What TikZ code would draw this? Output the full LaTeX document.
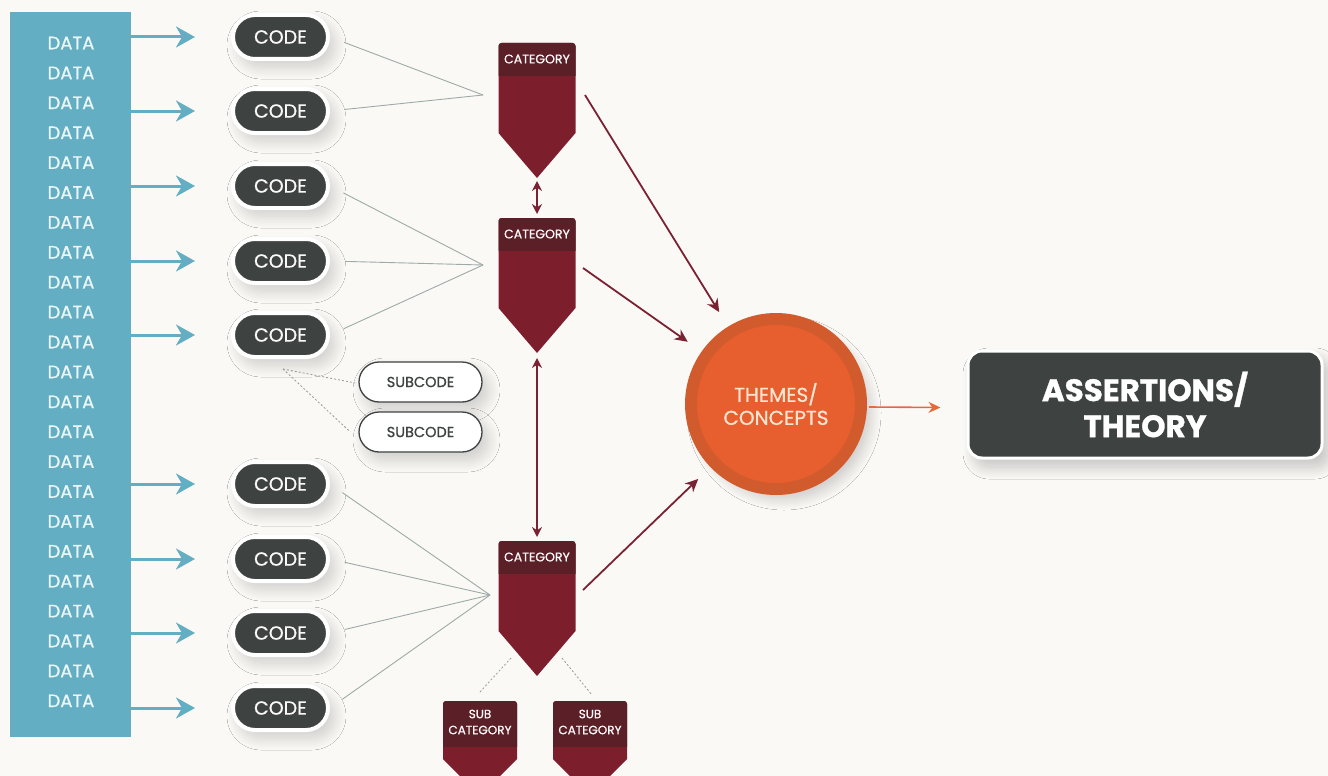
\documentclass[tikz,border=0pt]{standalone}
\usepackage{fontspec}
\setmainfont{Poppins}[FakeBold=0.9]
\usetikzlibrary{arrows.meta,shadows.blur,calc}

\definecolor{paper}{HTML}{FAF9F6}
\definecolor{teal}{HTML}{63AEC3}
\definecolor{datatext}{HTML}{EAF6F8}
\definecolor{codegray}{HTML}{3E4241}
\definecolor{linkgray}{HTML}{9EAAA8}
\definecolor{cathead}{HTML}{5A1F27}
\definecolor{catbody}{HTML}{7D1E2D}
\definecolor{catarrow}{HTML}{7B2232}
\definecolor{ring}{HTML}{D25B2E}
\definecolor{core}{HTML}{E75F2E}
\definecolor{coretext}{HTML}{FBE4D2}
\definecolor{outarrow}{HTML}{E36A3A}

% size in points of a font
\newcommand\fs[1]{\fontsize{#1}{#1}\selectfont}

% category arrow-box: #1 name, #2 centre x, #3 top y, #4 half width,
% #5 header height, #6 straight body height, #7 point depth
\newcommand\catshape[7]{%
  \begin{scope}
    \path[clip] (#2-#4,#3+#6) [rounded corners=3pt] -- (#2-#4,#3) -- (#2+#4,#3)
      [sharp corners] -- (#2+#4,#3+#6) -- (#2,#3+#6+#7) -- cycle;
    \fill[catbody] (#2-#4-2,#3-2) rectangle (#2+#4+2,#3+#6+#7+2);
    \fill[cathead] (#2-#4-2,#3-2) rectangle (#2+#4+2,#3+#5);
  \end{scope}
  \coordinate (#1top) at (#2,#3);
  \coordinate (#1tip) at (#2,#3+#6+#7);
}

\tikzset{
  x=1pt, y=-1pt,
  softshadow/.style={blur shadow={shadow xshift=6pt, shadow yshift=-8pt,
    shadow blur radius=12pt, shadow blur steps=20, shadow opacity=18}},
  datatxt/.style={text=datatext, font=\fs{18}, inner sep=0pt},
  datacol/.style={fill=teal, inner sep=0pt, minimum width=121pt, minimum height=725pt},
  feed/.style={teal, line width=3pt, -{Stealth[length=19pt,width=21pt,inset=6pt]}, shorten >=36pt},
  codebox/.style={rounded corners=22pt, fill=codegray, draw=white, line width=4pt,
    minimum width=95pt, minimum height=44pt, text=white!95!gray, font=\fs{19},
    inner sep=0pt, softshadow},
  subcodebox/.style={rounded corners=20pt, fill=white, draw=codegray, line width=1.3pt,
    minimum width=123pt, minimum height=40pt, text=codegray, font=\fs{14.5},
    inner sep=0pt, softshadow},
  link/.style={linkgray, line width=0.9pt, shorten <=15pt},
  dotlink/.style={gray!80, line width=0.8pt, dash pattern=on 2pt off 2pt},
  cattitle/.style={text=white!90!pink, font=\fs{12.5}, inner sep=0pt},
  subtitle/.style={text=white!90!pink, font=\fs{12}, inner sep=0pt, align=center,
    execute at begin node=\setlength{\baselineskip}{16pt}},
  tocat/.style={catarrow, line width=1.6pt, {Stealth[length=10pt,width=10pt]}-{Stealth[length=10pt,width=10pt]}},
  totheme/.style={catarrow, line width=1.8pt, -{Stealth[length=13pt,width=12pt]}, shorten >=17pt},
  themeball/.style={circle, fill=core, draw=ring, line width=12pt, minimum size=170pt,
    inner sep=0pt, text=coretext, font=\fs{20}, align=center,
    execute at begin node=\setlength{\baselineskip}{23pt},
    blur shadow={shadow xshift=8pt, shadow yshift=-9pt, shadow blur radius=12pt,
      shadow blur steps=20, shadow opacity=22}},
  theorybox/.style={rounded corners=14pt, fill=codegray, draw=white, line width=3pt,
    minimum width=354pt, minimum height=107pt, text=white, font=\bfseries\fs{31},
    align=center, inner sep=0pt, execute at begin node=\setlength{\baselineskip}{36pt},
    blur shadow={shadow xshift=7pt, shadow yshift=-9pt, shadow blur radius=12pt,
      shadow blur steps=20, shadow opacity=22}},
}

\begin{document}
\begin{tikzpicture}
\useasboundingbox (0,0) rectangle (1328,776);
\clip (0,0) rectangle (1328,776);
\fill[paper] (0,0) rectangle (1328,776);

% data column
\node[datacol] (data) at (70.5,374.5) {};
\foreach \i in {0,...,22}
  \node[datatxt] (d\i) at (71,{43+29.9*\i}) {DATA};

% codes
\foreach \n/\y in {1/37,2/111,3/186,4/261,5/335,6/484,7/559,8/633,9/708}
  \node[codebox] (code\n) at (280.5,\y) {CODE};

\foreach \n in {1,...,9}
  \draw[feed] (data.east |- code\n) -- (code\n.west);

% subcodes
\node[subcodebox] (sub1) at (420.5,382) {SUBCODE};
\node[subcodebox] (sub2) at (420.5,432) {SUBCODE};
\coordinate (splitc) at (283,369);
\draw[dotlink] (splitc) -- ($(sub1.west)+(-3,1)$);
\draw[dotlink] (splitc) -- ($(sub2.west)+(-8,0)$);

% categories
\catshape{cat1}{537}{43}{38.5}{33}{90}{45}
\catshape{cat2}{537}{218}{38.5}{33}{90}{45}
\catshape{cat3}{537}{541}{38.5}{33}{90}{45}
\node[cattitle] (cat1t) at (537,59) {CATEGORY};
\node[cattitle] (cat2t) at (537,234) {CATEGORY};
\node[cattitle] (cat3t) at (537,557) {CATEGORY};

% subcategories
\catshape{sc1}{480}{701}{37}{46}{58}{37}
\catshape{sc2}{590}{701}{37}{46}{58}{37}
\node[subtitle] (sc1t) at (480,722) {SUB\\CATEGORY};
\node[subtitle] (sc2t) at (590,722) {SUB\\CATEGORY};
\draw[dotlink] (511,658) -- (480,692);
\draw[dotlink] (562,658) -- (592,695);

% codes gathered into categories
\coordinate (j1) at (483,95);
\coordinate (j2) at (483,265);
\coordinate (j3) at (490,595);
\foreach \n in {1,2} \draw[link] (code\n.east) -- (j1);
\foreach \n in {3,4,5} \draw[link] (code\n.east) -- (j2);
\foreach \n in {6,7,8,9} \draw[link] (code\n.east) -- (j3);

% links between categories
\draw[tocat] ($(cat1tip)+(0,3)$) -- ($(cat2top)+(0,-4)$);
\draw[tocat] ($(cat2tip)+(0,5)$) -- ($(cat3top)+(0,-4)$);

% themes
\node[themeball] (theme) at (776,404) {THEMES/\\CONCEPTS};
\coordinate (o1) at (585,95);
\coordinate (o2) at (583,268);
\coordinate (o3) at (583,590);
\draw[totheme] (o1) -- (theme);
\draw[totheme] (o2) -- (theme);
\draw[totheme] (o3) -- (theme);

% theory
\node[theorybox] (theory) at (1145,404.5) {ASSERTIONS/\\THEORY};
\draw[outarrow, line width=1.6pt, -{Stealth[length=12pt,width=11pt]}] (theme.east) ++(2,3) -- ($(theory.west)+(-26,3)$);
\end{tikzpicture}
\end{document}
